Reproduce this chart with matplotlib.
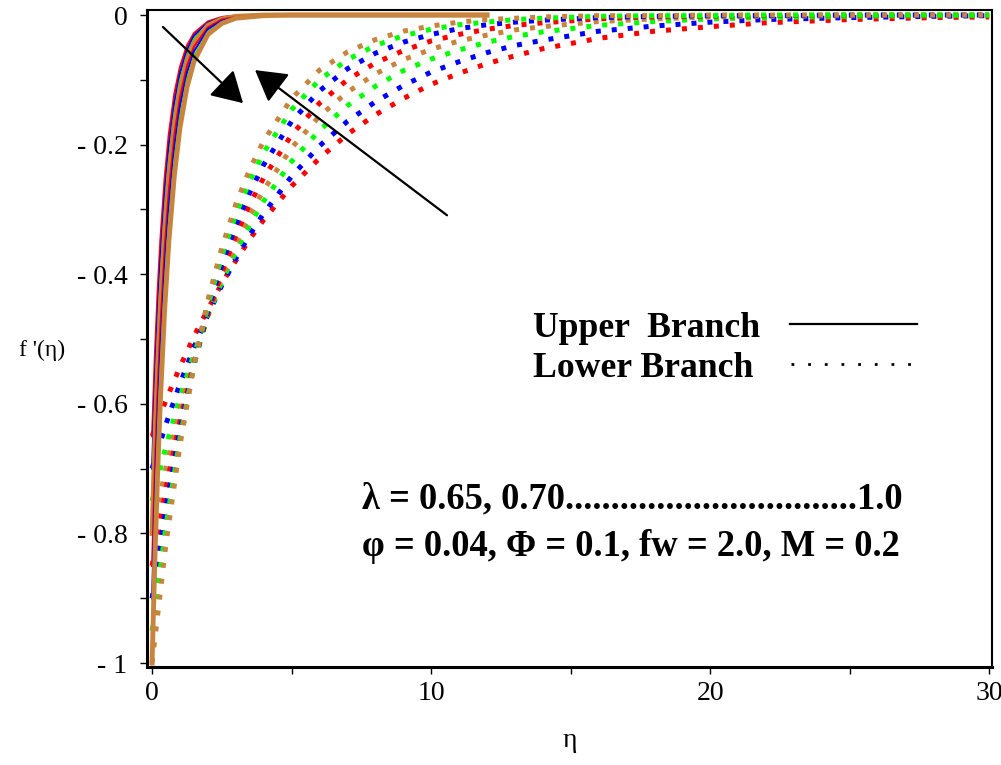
import matplotlib
matplotlib.use("Agg")
import matplotlib.pyplot as plt
from matplotlib.lines import Line2D

plt.rcParams["font.family"] = ["Liberation Serif", "DejaVu Serif"]

# lambda values and colours (Maple cycles red, blue, green, brown)
lams = [0.65, 0.70, 0.75, 0.80, 0.85, 0.90, 0.95, 1.00]
cols = ["#FF0000", "#0000FF", "#00FF00", "#C8843C"] * 2

# upper branch f'(eta)
eta_up = [0, 0.1, 0.2, 0.3, 0.45, 0.6, 0.8, 1.0, 1.25, 1.5, 2.0, 2.5, 3.0, 4.0, 5.0, 12.0]
upper_065 = [-0.65, -0.527, -0.427, -0.346, -0.253, -0.184, -0.121, -0.080, -0.047, -0.028, -0.010, -0.003, -0.001, 0, 0, 0]
upper_070 = [-0.70, -0.570, -0.465, -0.378, -0.278, -0.205, -0.136, -0.090, -0.054, -0.032, -0.012, -0.004, -0.001, 0, 0, 0]
upper_075 = [-0.75, -0.614, -0.503, -0.412, -0.305, -0.226, -0.151, -0.101, -0.062, -0.037, -0.014, -0.005, -0.002, 0, 0, 0]
upper_080 = [-0.80, -0.658, -0.542, -0.446, -0.333, -0.248, -0.168, -0.114, -0.070, -0.043, -0.016, -0.006, -0.002, 0, 0, 0]
upper_085 = [-0.85, -0.703, -0.581, -0.481, -0.362, -0.272, -0.186, -0.127, -0.079, -0.049, -0.019, -0.007, -0.003, 0, 0, 0]
upper_090 = [-0.90, -0.748, -0.622, -0.517, -0.392, -0.297, -0.205, -0.141, -0.089, -0.056, -0.022, -0.009, -0.004, -0.001, 0, 0]
upper_095 = [-0.95, -0.794, -0.663, -0.554, -0.423, -0.323, -0.225, -0.157, -0.100, -0.064, -0.026, -0.011, -0.004, -0.001, 0, 0]
upper_100 = [-1.00, -0.840, -0.705, -0.592, -0.455, -0.350, -0.247, -0.174, -0.112, -0.072, -0.030, -0.013, -0.005, -0.001, 0, 0]

# lower branch f'(eta)
eta_low = [0, 0.5, 1, 1.5, 2, 2.5, 3, 3.5, 4, 5, 6, 7, 8, 9, 10, 11, 12, 13, 14, 16, 18, 20, 22, 25, 28, 30]
lower_065 = [-0.650, -0.594, -0.543, -0.496, -0.454, -0.414, -0.379, -0.346, -0.316, -0.264, -0.221, -0.184, -0.154,
             -0.129, -0.107, -0.090, -0.075, -0.063, -0.052, -0.036, -0.025, -0.018, -0.012, -0.007, -0.004, -0.003]
lower_070 = [-0.700, -0.631, -0.569, -0.513, -0.463, -0.417, -0.376, -0.339, -0.306, -0.249, -0.202, -0.164, -0.134,
             -0.109, -0.088, -0.072, -0.058, -0.047, -0.039, -0.025, -0.017, -0.011, -0.007, -0.004, -0.002, -0.001]
lower_075 = [-0.750, -0.665, -0.590, -0.523, -0.464, -0.412, -0.365, -0.324, -0.287, -0.226, -0.178, -0.140, -0.110,
             -0.086, -0.068, -0.054, -0.042, -0.033, -0.026, -0.016, -0.010, -0.006, -0.004, -0.002, -0.001, -0.001]
lower_080 = [-0.800, -0.698, -0.610, -0.532, -0.464, -0.405, -0.354, -0.309, -0.270, -0.205, -0.156, -0.119, -0.091,
             -0.069, -0.053, -0.040, -0.031, -0.023, -0.018, -0.010, -0.006, -0.003, -0.002, -0.001, 0, 0]
lower_085 = [-0.850, -0.730, -0.627, -0.538, -0.462, -0.397, -0.340, -0.292, -0.251, -0.185, -0.136, -0.100, -0.074,
             -0.055, -0.040, -0.030, -0.022, -0.016, -0.012, -0.006, -0.003, -0.002, -0.001, 0, 0, 0]
lower_090 = [-0.900, -0.759, -0.641, -0.540, -0.456, -0.385, -0.325, -0.274, -0.231, -0.164, -0.117, -0.083, -0.059,
             -0.042, -0.030, -0.021, -0.015, -0.011, -0.008, -0.004, -0.002, -0.001, -0.001, 0, 0, 0]
lower_095 = [-0.950, -0.788, -0.653, -0.541, -0.449, -0.372, -0.308, -0.256, -0.212, -0.146, -0.100, -0.069, -0.047,
             -0.032, -0.022, -0.015, -0.011, -0.007, -0.005, -0.002, -0.001, -0.001, 0, 0, 0, 0]
lower_100 = [-1.000, -0.815, -0.664, -0.541, -0.440, -0.359, -0.292, -0.238, -0.194, -0.129, -0.085, -0.057, -0.038,
             -0.025, -0.017, -0.011, -0.007, -0.005, -0.003, -0.001, -0.001, 0, 0, 0, 0, 0]

uppers = [upper_065, upper_070, upper_075, upper_080, upper_085, upper_090, upper_095, upper_100]
lowers = [lower_065, lower_070, lower_075, lower_080, lower_085, lower_090, lower_095, lower_100]

xticks = [0, 10, 20, 30]
yticks = [0, -0.2, -0.4, -0.6, -0.8, -1]
yticklabels = ["0", "- 0.2", "- 0.4", "- 0.6", "- 0.8", "- 1"]

fig = plt.figure(figsize=(10.01, 7.65), dpi=100)
ax = fig.add_axes([0.1469, 0.1281, 0.8441, 0.8588])

# lower branch (dotted)
for lam, y, c in zip(lams, lowers, cols):
    ax.plot(eta_low, y, color=c, lw=3.6, linestyle=(0, (1, 2.2)))

# upper branch (solid)
for lam, y, c in zip(lams, uppers, cols):
    lw = 3.5 if c == "#C8843C" else 1.5
    ax.plot(eta_up, y, color=c, lw=lw)

# arrows showing the direction of increasing lambda
arr = dict(arrowstyle="-|>,head_length=0.95,head_width=0.55", color="k", lw=1.6,
           shrinkA=0, shrinkB=0, mutation_scale=20)
ax.annotate("", xy=(3.26, -0.136), xytext=(0.39, -0.0185), arrowprops=arr)
ax.annotate("", xy=(3.69, -0.085), xytext=(10.57, -0.309), arrowprops=arr)

ax.set_xlim(-0.18, 30.1)
ax.set_ylim(-1.006, 0.0077)
ax.set_xticks(xticks)
ax.set_xticks([5, 15, 25], minor=True)
ax.set_yticks(yticks)
ax.set_yticklabels(yticklabels)
ax.set_yticks([-0.1, -0.3, -0.5, -0.7, -0.9], minor=True)
ax.tick_params(which="both", direction="out", length=5, width=1, labelsize=20)
ax.tick_params(axis="y", pad=9)
ax.tick_params(axis="x", pad=5)
for s in ax.spines.values():
    s.set_linewidth(1.5)
ax.spines["left"].set_linewidth(2.2)
ax.spines["bottom"].set_linewidth(2.2)

ax.set_xlabel("η", fontsize=20, labelpad=16)
ax.set_ylabel("f '(η)", fontsize=17, rotation=0, va="center", ha="center")
ax.yaxis.set_label_coords(-0.124, 0.4825)

# legend: text first, sample line after it, text left-aligned
font = dict(family="Liberation Serif", weight="bold", size=25.7)
leg1 = ax.legend([Line2D([], [], color="k", lw=1.6)], ["Upper  Branch"],
                 loc="center left", bbox_to_anchor=(0.457, 0.516), frameon=False,
                 markerfirst=False, borderpad=0, borderaxespad=0, handlelength=3.55,
                 handletextpad=0.84, prop=font)
ax.add_artist(leg1)
ax.legend([Line2D([], [], color="k", lw=2, linestyle=(0, (1, 5)))], ["Lower Branch"],
          loc="center left", bbox_to_anchor=(0.457, 0.455), frameon=False,
          markerfirst=False, borderpad=0, borderaxespad=0, handlelength=3.55,
          handletextpad=1.06, prop=font)

ax.text(0.254, 0.242, "λ = 0.65, 0.70" + "." * 32 + "1.0", transform=ax.transAxes,
        fontsize=26.3, fontweight="bold", va="baseline")
ax.text(0.254, 0.169, "φ = 0.04, Φ = 0.1, fw = 2.0, M = 0.2", transform=ax.transAxes,
        fontsize=26.3, fontweight="bold", va="baseline")

fig.savefig("out.png", dpi=100)
